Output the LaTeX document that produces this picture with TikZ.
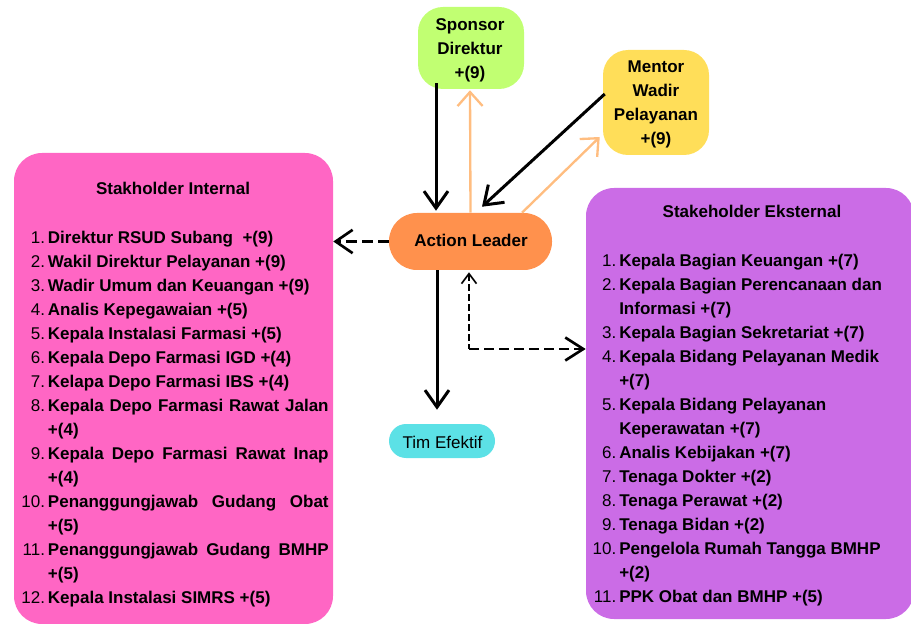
\documentclass[tikz,border=0pt]{standalone}
\usepackage{fontspec}
\setmainfont{Liberation Sans}
\usetikzlibrary{arrows.meta,calc}
\definecolor{pinkc}{HTML}{FF66C4}
\definecolor{purpc}{HTML}{CB6CE6}
\definecolor{greenc}{HTML}{C1FF72}
\definecolor{yellc}{HTML}{FFDE59}
\definecolor{orgc}{HTML}{FF914D}
\definecolor{cyanc}{HTML}{5CE1E6}
\definecolor{peach}{HTML}{FFBD80}
\newcommand\lnum[1]{\llap{\mdseries #1\hspace{2.2pt}}}
\newcommand\jline[1]{\makebox[210.5pt][s]{#1}}
\begin{document}
\begin{tikzpicture}[x=0.75pt,y=-0.75pt,
  box/.style={rounded corners=#1, inner sep=0pt, draw=none},
  txt/.style={inner sep=0pt, text=black, font=\fontsize{12.75}{18}\selectfont\bfseries},
  blk/.style={line width=2.25pt, -{Straight Barb[length=12.75pt,width=18pt]}},
  peacharr/.style={draw=peach, line width=1.75pt, -{Straight Barb[length=10.5pt,width=18.75pt]}},
  dshl/.style={line width=2pt, dash pattern=on 8.25pt off 3.75pt, -{Straight Barb[length=12.75pt,width=17.5pt]}},
  dshv/.style={line width=1.25pt, dash pattern=on 5.25pt off 2.25pt, {Straight Barb[length=7.5pt,width=11.25pt]}-},
  dshh/.style={line width=2pt, dash pattern=on 7.5pt off 3.75pt, -{Straight Barb[length=13.5pt,width=17.25pt]}}
]
\useasboundingbox (0,0) rectangle (911,624);
\clip (0,0) rectangle (911,624);
% boxes
\node[box=21pt, fill=pinkc, minimum width=239.25pt, minimum height=353.25pt] (pk) at (173.5,388.5) {};
\node[box=21pt, fill=purpc, minimum width=246pt, minimum height=323.25pt] (ek) at (750,403.5) {};
\node[box=18.75pt, fill=greenc, minimum width=79.5pt, minimum height=61.5pt] (sp) at (471,48) {};
\node[box=18.75pt, fill=yellc, minimum width=79.5pt, minimum height=78.75pt] (mn) at (656,102.5) {};
\node[box=21pt, fill=orgc, minimum width=122.25pt, minimum height=42.75pt] (al) at (470.5,241.5) {};
\node[box=12.75pt, fill=cyanc, minimum width=79.5pt, minimum height=25.5pt] (tm) at (442,441) {};
% texts
\node[txt, anchor=base] (sptxt) at (470,31) {\begin{tabular}[t]{@{}c@{}}Sponsor\\Direktur\\+(9)\end{tabular}};
\node[txt, anchor=base] (mntxt) at (656,72.7) {\begin{tabular}[t]{@{}c@{}}Mentor\\Wadir\\Pelayanan\\+(9)\end{tabular}};
\node[txt, anchor=base] (altxt) at (471,246.7) {Action Leader};
\node[txt, anchor=base, font=\fontsize{12.75}{18}\selectfont\mdseries] (tmtxt) at (442.5,448.3) {Tim Efektif};
\node[txt, anchor=base] (pkt) at (173,194.3) {Stakholder Internal};
\node[txt, anchor=base] (ekt) at (752,217.3) {Stakeholder Eksternal};
\node[txt, anchor=base west] (pkl) at (47.7,243.5) {\begin{tabular}[t]{@{}l@{}}
\lnum{1.}Direktur RSUD Subang\ \ +(9)\\
\lnum{2.}Wakil Direktur Pelayanan +(9)\\
\lnum{3.}Wadir Umum dan Keuangan +(9)\\
\lnum{4.}Analis Kepegawaian +(5)\\
\lnum{5.}Kepala Instalasi Farmasi +(5)\\
\lnum{6.}Kepala Depo Farmasi IGD +(4)\\
\lnum{7.}Kelapa Depo Farmasi IBS +(4)\\
\lnum{8.}\jline{Kepala Depo Farmasi Rawat Jalan}\\
+(4)\\
\lnum{9.}\jline{Kepala Depo Farmasi Rawat Inap}\\
+(4)\\
\lnum{10.}\jline{Penanggungjawab Gudang Obat}\\
+(5)\\
\lnum{11.}\jline{Penanggungjawab Gudang BMHP}\\
+(5)\\
\lnum{12.}Kepala Instalasi SIMRS +(5)
\end{tabular}};
\node[txt, anchor=base west] (ekl) at (619,266.7) {\begin{tabular}[t]{@{}l@{}}
\lnum{1.}Kepala Bagian Keuangan +(7)\\
\lnum{2.}Kepala Bagian Perencanaan dan\\
Informasi +(7)\\
\lnum{3.}Kepala Bagian Sekretariat +(7)\\
\lnum{4.}Kepala Bidang Pelayanan Medik\\
+(7)\\
\lnum{5.}Kepala Bidang Pelayanan\\
Keperawatan +(7)\\
\lnum{6.}Analis Kebijakan +(7)\\
\lnum{7.}Tenaga Dokter +(2)\\
\lnum{8.}Tenaga Perawat +(2)\\
\lnum{9.}Tenaga Bidan +(2)\\
\lnum{10.}Pengelola Rumah Tangga BMHP\\
+(2)\\
\lnum{11.}PPK Obat dan BMHP +(5)
\end{tabular}};
% connectors
\draw[peacharr] (al.north) -- ($(sp.south)+(-1,1)$);
\draw[peacharr] ($(al.north)+(51.5,0)$) -- ($(mn.west)+(-3,34.5)$);
\draw[blk] ($(sp.south)+(-35,-6)$) -- ($(al.north)+(-34.5,-2)$);
\draw[blk] ($(mn.west)+(2,-8.5)$) -- ($(al.north)+(11.5,-6)$);
\draw[dshl] (al.west) -- (al.west -| pk.east);
\draw[blk] ($(al.south)+(-33.5,0)$) -- ($(tm.north)+(-5,-14)$);
\coordinate (bend) at (469,349);
\draw[dshv] ($(al.south)+(-1.5,2)$) -- (bend);
\draw[dshh] (bend) -- (bend -| ek.west);
\end{tikzpicture}
\end{document}
